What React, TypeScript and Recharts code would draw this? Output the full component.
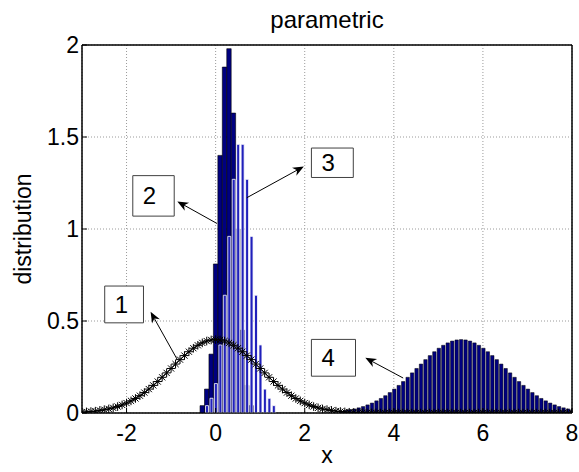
import {
  ComposedChart,
  Area,
  Bar,
  Line,
  XAxis,
  YAxis,
  CartesianGrid,
  ReferenceArea,
  ReferenceLine,
} from "recharts";

// x grid shared by every series (step 0.1 from -3 to 8)
const X_START = -3;
const X_STEP = 0.1;
const X_TICKS = [-2, 0, 2, 4, 6, 8];
const Y_TICKS = [0, 0.5, 1, 1.5, 2];

// 1: smooth density with star markers, read from -3.0 to 8.0
const curveValues = [
  0.004, 0.006, 0.008, 0.010, 0.014, 0.018, 0.022, 0.028, 0.035, 0.044,
  0.054, 0.066, 0.079, 0.094, 0.111, 0.130, 0.150, 0.171, 0.194, 0.218,
  0.242, 0.266, 0.290, 0.312, 0.333, 0.352, 0.368, 0.381, 0.391, 0.397,
  0.399,
  0.397, 0.391, 0.381, 0.368, 0.352, 0.333, 0.312, 0.290, 0.266, 0.242,
  0.218, 0.194, 0.171, 0.150, 0.130, 0.111, 0.094, 0.079, 0.066, 0.054,
  0.044, 0.035, 0.028, 0.022, 0.018, 0.014, 0.010, 0.008, 0.006, 0.004,
  0.003, 0.002, 0.002, 0.001, 0.001, 0.001, 0, 0, 0, 0,
  0, 0, 0, 0, 0, 0, 0, 0, 0, 0,
  0, 0, 0, 0, 0, 0, 0, 0, 0, 0,
  0, 0, 0, 0, 0, 0, 0, 0, 0, 0,
  0, 0, 0, 0, 0, 0, 0, 0, 0, 0,
];

// 2: tall narrow histogram, starts at x = -0.3
const peakStart = -0.3;
const peakValues = [0.04, 0.13, 0.32, 0.81, 1.4, 1.88, 1.98, 1.63, 1.0, 0.45, 0.15, 0.04];

// 3: lighter histogram, starts at x = -0.2
const lightStart = -0.2;
const lightValues = [
  0.04, 0.08, 0.16, 0.37, 0.64, 0.96, 1.27, 1.46, 1.46, 1.27, 0.96, 0.64, 0.37, 0.13, 0.08, 0.04,
];

// 4: shifted density bars, starts at x = 2.8
const shiftStart = 2.8;
const shiftValues = [
  0.010, 0.014, 0.018, 0.022, 0.028, 0.035, 0.044, 0.054, 0.066, 0.079,
  0.094, 0.111, 0.130, 0.150, 0.171, 0.194, 0.218, 0.242, 0.266, 0.290,
  0.312, 0.333, 0.352, 0.368, 0.381, 0.391, 0.397, 0.399, 0.397, 0.391,
  0.381, 0.368, 0.352, 0.333, 0.312, 0.290, 0.266, 0.242, 0.218, 0.194,
  0.171, 0.150, 0.130, 0.111, 0.094, 0.079, 0.066, 0.054, 0.044, 0.035,
  0.028, 0.022, 0.018,
];

// annotation boxes and arrows (data units)
const notes = [
  { text: "1", box: [-2.49, -1.62, 0.49, 0.69], from: [-0.86, 0.29], to: [-1.46, 0.55] },
  { text: "2", box: [-1.86, -0.93, 1.07, 1.29], from: [0.03, 1.03], to: [-0.86, 1.15] },
  { text: "3", box: [2.15, 3.09, 1.28, 1.44], from: [0.7, 1.17], to: [1.98, 1.34] },
  { text: "4", box: [2.15, 3.14, 0.2, 0.4], from: [4.21, 0.19], to: [3.36, 0.3] },
];

type Row = { x: number; [k: string]: number };

const rows: Row[] = curveValues.map((v, i) => ({
  x: Math.round((X_START + i * X_STEP) * 10) / 10,
  curve: v,
}));

function put(key: string, start: number, values: number[]) {
  const off = Math.round((start - X_START) / X_STEP);
  values.forEach((v, i) => {
    rows[off + i][key] = v;
  });
}
put("peak", peakStart, peakValues);
put("light", lightStart, lightValues);
put("shift", shiftStart, shiftValues);

const FONT = "'Liberation Sans', Arial, sans-serif";

function Star(props: any) {
  const { cx, cy, index } = props;
  if (cx == null || cy == null) return <g key={index} />;
  const r = 4.3;
  const d = r * 0.72;
  return (
    <g key={index} stroke="#000" strokeWidth={1}>
      <line x1={cx - r} y1={cy} x2={cx + r} y2={cy} />
      <line x1={cx} y1={cy - r} x2={cx} y2={cy + r} />
      <line x1={cx - d} y1={cy - d} x2={cx + d} y2={cy + d} />
      <line x1={cx - d} y1={cy + d} x2={cx + d} y2={cy - d} />
    </g>
  );
}

function Arrow(props: any) {
  const { x1, y1, x2, y2 } = props;
  const dx = x2 - x1;
  const dy = y2 - y1;
  const len = Math.hypot(dx, dy) || 1;
  const ux = dx / len;
  const uy = dy / len;
  const head = 11;
  const half = 4.5;
  const bx = x2 - ux * head;
  const by = y2 - uy * head;
  const nx = x2 - ux * head * 0.7;
  const ny = y2 - uy * head * 0.7;
  const pts = `${x2},${y2} ${bx - uy * half},${by + ux * half} ${nx},${ny} ${bx + uy * half},${by - ux * half}`;
  return (
    <g>
      <line x1={x1} y1={y1} x2={nx} y2={ny} stroke="#000" strokeWidth={1} />
      <polygon points={pts} fill="#000" />
    </g>
  );
}

export default function App() {
  return (
    <div style={{ position: "absolute", left: 0, top: 0, width: 579, height: 472, background: "#fff" }}>
      <div
        style={{
          position: "absolute",
          top: 3,
          left: 82,
          width: 490,
          textAlign: "center",
          fontFamily: FONT,
          fontSize: 24,
          lineHeight: "34px",
          color: "#000",
        }}
      >
        parametric
      </div>
      <ComposedChart
        width={579}
        height={472}
        data={rows}
        margin={{ top: 44, right: 6, bottom: 0, left: 0 }}
        style={{ fontFamily: FONT }}
      >
        <CartesianGrid
          xAxisId="main"
          yAxisId="main"
          stroke="#9a9a9a"
          strokeDasharray="1 2"
        />
        <XAxis
          xAxisId="main"
          dataKey="x"
          type="number"
          domain={[-3, 8]}
          ticks={X_TICKS}
          interval={0}
          allowDataOverflow
          height={59}
          tickSize={-5}
          tickMargin={17}
          axisLine={{ stroke: "#000" }}
          tickLine={{ stroke: "#000" }}
          tick={{ fontSize: 23, fill: "#000", fontFamily: FONT }}
          label={{ value: "x", position: "insideBottom", offset: 9, fontSize: 23, fill: "#000", fontFamily: FONT }}
        />
        <XAxis
          xAxisId="top"
          orientation="top"
          dataKey="x"
          type="number"
          domain={[-3, 8]}
          ticks={X_TICKS}
          interval={0}
          allowDataOverflow
          height={1}
          tickSize={-5}
          tick={false}
          axisLine={{ stroke: "#000" }}
          tickLine={{ stroke: "#000" }}
        />
        <XAxis xAxisId="light" dataKey="x" type="number" domain={[-3, 8]} allowDataOverflow height={0} hide />
        <XAxis xAxisId="shift" dataKey="x" type="number" domain={[-3, 8]} allowDataOverflow height={0} hide />
        <YAxis
          yAxisId="main"
          type="number"
          domain={[0, 2]}
          ticks={Y_TICKS}
          interval={0}
          allowDataOverflow
          width={82}
          tickSize={-5}
          tickMargin={8}
          axisLine={{ stroke: "#000" }}
          tickLine={{ stroke: "#000" }}
          tick={{ fontSize: 23, fill: "#000", fontFamily: FONT }}
          label={{
            value: "distribution",
            angle: -90,
            position: "insideLeft",
            offset: 23,
            fontSize: 23,
            fill: "#000",
            fontFamily: FONT,
            style: { textAnchor: "middle" },
          }}
        />
        <YAxis
          yAxisId="right"
          orientation="right"
          type="number"
          domain={[0, 2]}
          ticks={Y_TICKS}
          interval={0}
          allowDataOverflow
          width={1}
          tickSize={-5}
          tick={false}
          axisLine={{ stroke: "#000" }}
          tickLine={{ stroke: "#000" }}
        />

        {/* invisible series so the top/right frame axes get drawn */}
        <Line
          xAxisId="top"
          yAxisId="right"
          dataKey="curve"
          stroke="none"
          dot={false}
          activeDot={false}
          legendType="none"
          isAnimationActive={false}
        />
        {/* curve drawn as an unfilled area so the bars sit on top of it */}
        <Area
          xAxisId="main"
          yAxisId="main"
          dataKey="curve"
          type="linear"
          stroke="#000"
          strokeWidth={1}
          fill="none"
          fillOpacity={0}
          dot={Star}
          activeDot={false}
          isAnimationActive={false}
        />
        <Bar
          xAxisId="main"
          yAxisId="main"
          dataKey="peak"
          barSize={4.4}
          fill="#000080"
          stroke="#000"
          strokeWidth={0.6}
          isAnimationActive={false}
        />
        <Bar
          xAxisId="light"
          yAxisId="main"
          dataKey="light"
          barSize={3}
          fill="#2020bb"
          stroke="#ffffff"
          strokeWidth={0.8}
          isAnimationActive={false}
        />
        <Bar
          xAxisId="shift"
          yAxisId="main"
          dataKey="shift"
          barSize={3.4}
          fill="#000080"
          stroke="#000"
          strokeWidth={0.5}
          isAnimationActive={false}
        />

        {/* plot frame */}
        <ReferenceArea
          xAxisId="main"
          yAxisId="main"
          x1={-3}
          x2={8}
          y1={0}
          y2={2}
          fill="none"
          stroke="#000"
          strokeWidth={1}
        />
        {notes.map((n) => (
          <ReferenceLine
            key={"a" + n.text}
            xAxisId="main"
            yAxisId="main"
            segment={[
              { x: n.from[0], y: n.from[1] },
              { x: n.to[0], y: n.to[1] },
            ]}
            shape={Arrow}
          />
        ))}
        {notes.map((n) => (
          <ReferenceArea
            key={"b" + n.text}
            xAxisId="main"
            yAxisId="main"
            x1={n.box[0]}
            x2={n.box[1]}
            y1={n.box[2]}
            y2={n.box[3]}
            fill="#fff"
            fillOpacity={1}
            stroke="#404040"
            strokeWidth={1}
            label={{ value: n.text, position: "insideLeft", offset: 10, fontSize: 24, fill: "#000", fontFamily: FONT }}
          />
        ))}
      </ComposedChart>
    </div>
  );
}
